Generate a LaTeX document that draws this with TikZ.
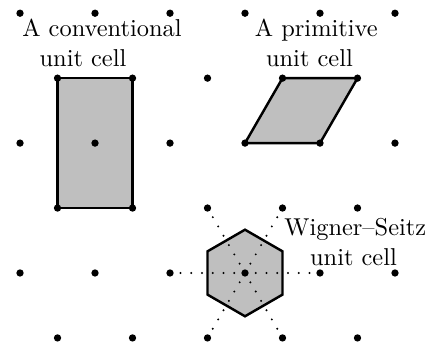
\documentclass[tikz,border=0pt]{standalone}
\usepackage{xcolor}
\usepackage{tikz}
\usetikzlibrary{shapes.geometric, backgrounds}
\tikzset{
  site/.style={circle, fill=black, inner sep=0pt, minimum size=3pt},
  cell/.style={draw=black, fill=gray!50, line width=1pt, line join=round},
  hexcell/.style={regular polygon, regular polygon sides=6, shape border rotate=30, draw=black, fill=gray!50, line width=1pt, minimum size=1.247cm, inner sep=0pt, outer sep=0pt},
  bond/.style={line width=0.9pt, line cap=round, dash pattern=on 0pt off 4.4pt},
  lab/.style={anchor=base, inner sep=0pt, font=\normalsize},
}

\begin{document}
\begin{tikzpicture}[x=1.08cm, y=1.08cm]
  \useasboundingbox (-3.267,-0.96) rectangle (2.667,3.64);
  % lattice points
  \foreach \r in {1,3,5}
    \foreach \c in {0,...,5}
      \node[site] (s\c\r) at ({\c-3},{(\r-1)*0.866}) {};
  \foreach \r in {0,2,4}
    \foreach \c in {0,...,4}
      \node[site] (s\c\r) at ({\c-2.5},{(\r-1)*0.866}) {};
  % unit cells
  \begin{scope}[on background layer]
    \draw[cell] (s04.center) -- (s14.center) -- (s12.center) -- (s02.center) -- cycle;
    \draw[cell] (s33.center) -- (s43.center) -- (s44.center) -- (s34.center) -- cycle;
    \node[hexcell] (ws) at (s31) {};
    \foreach \n in {s21,s41,s22,s32,s20,s30}
      \draw[bond] (s31.center) -- (\n.center);
  \end{scope}
  % labels
  \node[lab] (conv1) at (-1.907,3.151) {A conventional};
  \node[lab] (conv2) at (-2.16,2.751) {unit cell};
  \node[lab] (prim1) at (0.951,3.151) {A primitive};
  \node[lab] (prim2) at (0.86,2.751) {unit cell};
  \node[lab] (wslab1) at (1.471,0.497) {Wigner--Seitz};
  \node[lab] (wslab2) at (1.447,0.097) {unit cell};
\end{tikzpicture}
\end{document}
